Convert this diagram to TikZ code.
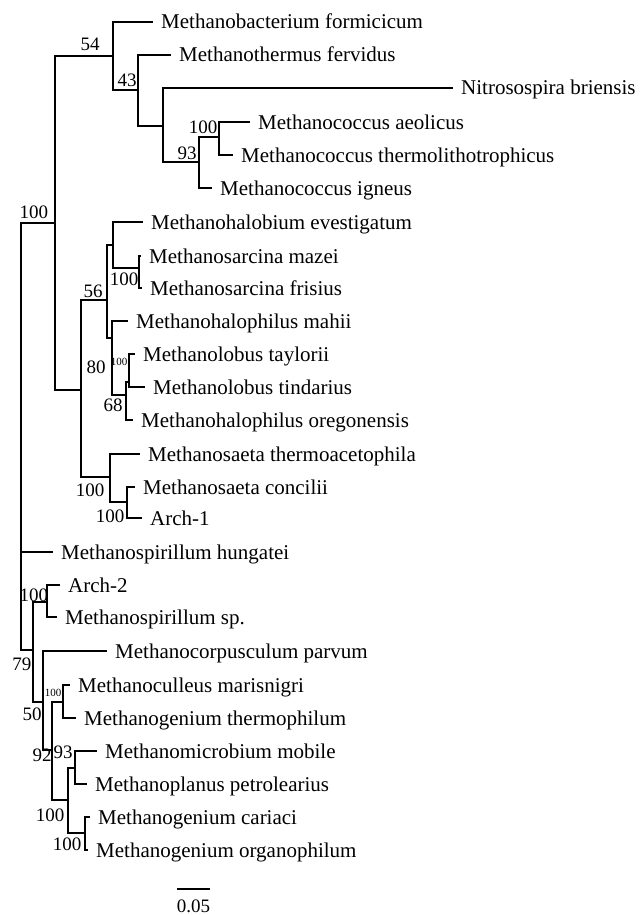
\documentclass[tikz,border=0pt]{standalone}
\usepackage{fontspec}
\setmainfont{Liberation Serif}

\begin{document}
\begin{tikzpicture}[x=1pt, y=-1pt,
	branch/.style={draw=black, line width=2.2pt},
	leaf/.style={anchor=west, inner xsep=8pt, inner ysep=0pt, text height=14pt, text depth=0pt, font=\fontsize{21}{25}\selectfont},
	boot/.style={inner sep=0pt, font=\fontsize{19}{22}\selectfont},
	smallboot/.style={inner sep=0pt, font=\fontsize{11}{13}\selectfont}]
	    \useasboundingbox (0,0) rectangle (643,915);
	    \coordinate (root) at (21,552);
	    \coordinate (n100a) at (55,223);
	    \coordinate (n54) at (113,56);
	    \coordinate (n43) at (138,90);
	    \coordinate (nN) at (163,126);
	    \coordinate (n93a) at (199,162);
	    \coordinate (n100b) at (219,137);
	    \coordinate (nB) at (81,390);
	    \coordinate (n56) at (107,300);
	    \coordinate (nMh) at (113,245);
	    \coordinate (n100c) at (139,268);
	    \coordinate (n80) at (112,338);
	    \coordinate (n68) at (126,395);
	    \coordinate (n100d) at (129,382);
	    \coordinate (n100e) at (110,477);
	    \coordinate (n100f) at (127,502);
	    \coordinate (n79) at (33,650);
	    \coordinate (n100g) at (47,602);
	    \coordinate (n50) at (43,702);
	    \coordinate (n92) at (52,750);
	    \coordinate (n100h) at (63,702);
	    \coordinate (nY) at (68,800);
	    \coordinate (n93b) at (75,768);
	    \coordinate (n100i) at (85,833);
	    \node[leaf] (formicicum) at (153,22) {Methanobacterium formicicum};
	    \node[leaf] (fervidus) at (171,55) {Methanothermus fervidus};
	    \node[leaf] (briensis) at (453,88) {Nitrosospira briensis};
	    \node[leaf] (aeolicus) at (250,122) {Methanococcus aeolicus};
	    \node[leaf] (thermolitho) at (233,155) {Methanococcus thermolithotrophicus};
	    \node[leaf] (igneus) at (212,188) {Methanococcus igneus};
	    \node[leaf] (evestigatum) at (143,222) {Methanohalobium evestigatum};
	    \node[leaf] (mazei) at (141,256) {Methanosarcina mazei};
	    \node[leaf] (frisius) at (142,288) {Methanosarcina frisius};
	    \node[leaf] (mahii) at (128,321) {Methanohalophilus mahii};
	    \node[leaf] (taylorii) at (135,354) {Methanolobus taylorii};
	    \node[leaf] (tindarius) at (145,387) {Methanolobus tindarius};
	    \node[leaf] (oregonensis) at (133,420) {Methanohalophilus oregonensis};
	    \node[leaf] (thermoacetophila) at (140,454) {Methanosaeta thermoacetophila};
	    \node[leaf] (concilii) at (135,487) {Methanosaeta concilii};
	    \node[leaf] (arch1) at (142,518) {Arch-1};
	    \node[leaf] (hungatei) at (53,552) {Methanospirillum hungatei};
	    \node[leaf] (arch2) at (60,585) {Arch-2};
	    \node[leaf] (spirsp) at (57,617) {Methanospirillum sp.};
	    \node[leaf] (parvum) at (107,651) {Methanocorpusculum parvum};
	    \node[leaf] (marisnigri) at (70,685) {Methanoculleus marisnigri};
	    \node[leaf] (thermophilum) at (76,718) {Methanogenium thermophilum};
	    \node[leaf] (mobile) at (97,751) {Methanomicrobium mobile};
	    \node[leaf] (petrolearius) at (87,784) {Methanoplanus petrolearius};
	    \node[leaf] (cariaci) at (90,817) {Methanogenium cariaci};
	    \node[leaf] (organophilum) at (88,850) {Methanogenium organophilum};
	    \draw[branch] (root) |- (n100a) (root) |- (hungatei) (root) |- (n79);
	    \draw[branch] (n100a) |- (n54) (n100a) |- (nB);
	    \draw[branch] (n54) |- (formicicum) (n54) |- (n43);
	    \draw[branch] (n43) |- (fervidus) (n43) |- (nN);
	    \draw[branch] (nN) |- (briensis) (nN) |- (n93a);
	    \draw[branch] (n93a) |- (n100b) (n93a) |- (igneus);
	    \draw[branch] (n100b) |- (aeolicus) (n100b) |- (thermolitho);
	    \draw[branch] (nB) |- (n56) (nB) |- (n100e);
	    \draw[branch] (n56) |- (nMh) (n56) |- (n80);
	    \draw[branch] (nMh) |- (evestigatum) (nMh) |- (n100c);
	    \draw[branch] (n100c) |- (mazei) (n100c) |- (frisius);
	    \draw[branch] (n80) |- (mahii) (n80) |- (n68);
	    \draw[branch] (n68) |- (n100d) (n68) |- (oregonensis);
	    \draw[branch] (n100d) |- (taylorii) (n100d) |- (tindarius);
	    \draw[branch] (n100e) |- (thermoacetophila) (n100e) |- (n100f);
	    \draw[branch] (n100f) |- (concilii) (n100f) |- (arch1);
	    \draw[branch] (n79) |- (n100g) (n79) |- (n50);
	    \draw[branch] (n100g) |- (arch2) (n100g) |- (spirsp);
	    \draw[branch] (n50) |- (parvum) (n50) |- (n92);
	    \draw[branch] (n92) |- (n100h) (n92) |- (nY);
	    \draw[branch] (n100h) |- (marisnigri) (n100h) |- (thermophilum);
	    \draw[branch] (nY) |- (n93b) (nY) |- (n100i);
	    \draw[branch] (n93b) |- (mobile) (n93b) |- (petrolearius);
	    \draw[branch] (n100i) |- (cariaci) (n100i) |- (organophilum);
	    \node[boot] (b100a) at (34,212) {100};
	    \node[boot] (b54) at (90,44) {54};
	    \node[boot] (b43) at (127,80) {43};
	    \node[boot] (b93a) at (187,153) {93};
	    \node[boot] (b100b) at (203,127) {100};
	    \node[boot] (b56) at (93,291) {56};
	    \node[boot] (b100c) at (124,279) {100};
	    \node[boot] (b80) at (96,367) {80};
	    \node[smallboot] (b100d) at (119,362) {100};
	    \node[boot] (b68) at (113,405) {68};
	    \node[boot] (b100e) at (90,490) {100};
	    \node[boot] (b100f) at (110,516) {100};
	    \node[boot] (b100g) at (34,595) {100};
	    \node[boot] (b79) at (22,664) {79};
	    \node[boot] (b50) at (32,714) {50};
	    \node[smallboot] (b100h) at (53,693) {100};
	    \node[boot] (b92) at (42,755) {92};
	    \node[boot] (b93b) at (63,752) {93};
	    \node[boot] (b100i) at (50,815) {100};
	    \node[boot] (b100j) at (67,844) {100};
	    \coordinate (barl) at (177,889);
	    \coordinate (barr) at (210,889);
	    \draw[branch] (barl) -- (barr);
	    \node[boot] (barlab) at (193.5,906) {0.05};
	\end{tikzpicture}
\end{document}
